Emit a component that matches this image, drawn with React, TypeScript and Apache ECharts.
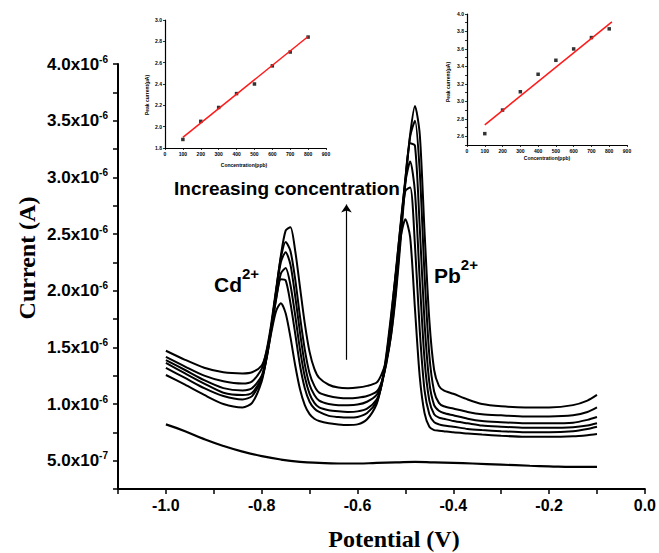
import React, { useEffect, useRef } from "react";
import * as echarts from "echarts";

// ---- main voltammograms (current in units of 1e-6 A) ----
const potential = [-1.0, -0.96, -0.92, -0.88, -0.84, -0.82, -0.8, -0.79, -0.78, -0.77, -0.76, -0.75, -0.74, -0.73, -0.72, -0.71, -0.7, -0.69, -0.68, -0.66, -0.64, -0.62, -0.6, -0.58, -0.56, -0.55, -0.54, -0.53, -0.52, -0.51, -0.5, -0.49, -0.48, -0.47, -0.46, -0.45, -0.44, -0.43, -0.42, -0.4, -0.37, -0.34, -0.3, -0.25, -0.2, -0.15, -0.12, -0.1];

const curve1 = [1.47, 1.39, 1.32, 1.28, 1.27, 1.28, 1.34, 1.46, 1.68, 1.99, 2.31, 2.53, 2.56, 2.35, 2.03, 1.71, 1.46, 1.31, 1.23, 1.17, 1.145, 1.14, 1.145, 1.16, 1.19, 1.26, 1.38, 1.6, 1.96, 2.44, 2.95, 3.38, 3.63, 3.38, 2.52, 1.74, 1.3, 1.16, 1.12, 1.09, 1.04, 1.0, 0.98, 0.97, 0.97, 0.99, 1.03, 1.08];
const curve2 = [1.415, 1.33, 1.25, 1.2, 1.18, 1.2, 1.31, 1.47, 1.71, 2.01, 2.29, 2.43, 2.35, 2.1, 1.77, 1.48, 1.27, 1.16, 1.1, 1.07, 1.055, 1.05, 1.055, 1.07, 1.11, 1.19, 1.35, 1.61, 2.0, 2.49, 2.98, 3.36, 3.5, 3.05, 2.14, 1.43, 1.11, 1.01, 0.98, 0.96, 0.93, 0.91, 0.9, 0.89, 0.89, 0.9, 0.93, 0.97];
const curve3 = [1.388, 1.3, 1.21, 1.14, 1.12, 1.14, 1.25, 1.42, 1.68, 1.99, 2.25, 2.34, 2.23, 1.95, 1.63, 1.35, 1.17, 1.08, 1.03, 1.0, 0.99, 0.99, 0.995, 1.02, 1.08, 1.18, 1.36, 1.66, 2.07, 2.55, 2.99, 3.3, 3.28, 2.56, 1.72, 1.19, 0.99, 0.94, 0.92, 0.9, 0.87, 0.85, 0.84, 0.83, 0.83, 0.835, 0.86, 0.885];
const curve4 = [1.362, 1.27, 1.18, 1.1, 1.08, 1.1, 1.23, 1.4, 1.65, 1.93, 2.15, 2.2, 2.05, 1.78, 1.48, 1.24, 1.09, 1.01, 0.97, 0.945, 0.935, 0.93, 0.935, 0.96, 1.04, 1.16, 1.38, 1.71, 2.14, 2.59, 2.96, 3.14, 2.87, 2.09, 1.39, 1.03, 0.91, 0.88, 0.87, 0.85, 0.83, 0.81, 0.8, 0.79, 0.79, 0.795, 0.81, 0.83];
const curve5 = [1.318, 1.23, 1.14, 1.07, 1.04, 1.07, 1.22, 1.41, 1.67, 1.92, 2.1, 2.09, 1.89, 1.62, 1.34, 1.14, 1.02, 0.96, 0.93, 0.895, 0.885, 0.88, 0.885, 0.92, 1.02, 1.16, 1.41, 1.75, 2.17, 2.57, 2.88, 2.91, 2.4, 1.65, 1.12, 0.91, 0.84, 0.82, 0.81, 0.8, 0.78, 0.77, 0.76, 0.75, 0.75, 0.76, 0.78, 0.8];
const curve6 = [1.256, 1.17, 1.08, 1.0, 0.97, 1.01, 1.2, 1.4, 1.63, 1.82, 1.89, 1.8, 1.59, 1.34, 1.13, 0.99, 0.91, 0.87, 0.85, 0.83, 0.82, 0.815, 0.82, 0.865, 1.0, 1.17, 1.43, 1.78, 2.15, 2.47, 2.63, 2.47, 1.84, 1.24, 0.92, 0.8, 0.77, 0.765, 0.76, 0.75, 0.74, 0.73, 0.72, 0.71, 0.71, 0.715, 0.725, 0.735];

const blankPotential = [-1.0, -0.96, -0.92, -0.88, -0.84, -0.8, -0.76, -0.72, -0.68, -0.64, -0.6, -0.56, -0.52, -0.48, -0.44, -0.4, -0.36, -0.3, -0.24, -0.2, -0.15, -0.1];
const blankCurrent = [0.82, 0.76, 0.69, 0.63, 0.58, 0.54, 0.51, 0.49, 0.48, 0.475, 0.475, 0.48, 0.485, 0.49, 0.485, 0.48, 0.475, 0.465, 0.455, 0.45, 0.445, 0.445];

// ---- tick labels ----
const yTickValues = [0.5, 1.0, 1.5, 2.0, 2.5, 3.0, 3.5, 4.0];
const yTickMantissa = ["5.0", "1.0", "1.5", "2.0", "2.5", "3.0", "3.5", "4.0"];
const yTickExponent = ["-7", "-6", "-6", "-6", "-6", "-6", "-6", "-6"];
const xTickValues = [-1.0, -0.8, -0.6, -0.4, -0.2, 0.0];
const xTickLabels = ["-1.0", "-0.8", "-0.6", "-0.4", "-0.2", "0.0"];

// ---- insets (calibration plots) ----
const insetConc = [100, 200, 300, 400, 500, 600, 700, 800];
const cdPeakCurrent = [1.88, 2.05, 2.18, 2.31, 2.4, 2.57, 2.7, 2.84];
const pbPeakCurrent = [2.63, 2.9, 3.11, 3.31, 3.47, 3.6, 3.73, 3.83];
const cdFitConc = [100, 800];
const cdFitCurrent = [1.9, 2.845];
const pbFitConc = [100, 815];
const pbFitCurrent = [2.73, 3.91];
const insetXTickValues = [0, 100, 200, 300, 400, 500, 600, 700, 800, 900];
const insetXTickLabels = ["0", "100", "200", "300", "400", "500", "600", "700", "800", "900"];
const cdInsetYValues = [1.8, 2.0, 2.2, 2.4, 2.6, 2.8, 3.0];
const cdInsetYLabels = ["1.8", "2.0", "2.2", "2.4", "2.6", "2.8", "3.0"];
const pbInsetYValues = [2.6, 2.8, 3.0, 3.2, 3.4, 3.6, 3.8, 4.0];
const pbInsetYLabels = ["2.6", "2.8", "3.0", "3.2", "3.4", "3.6", "3.8", "4.0"];

const pick = (vals: number[], labels: string[], v: number) => {
  const i = vals.findIndex((t) => Math.abs(t - v) < 1e-6);
  return i >= 0 ? labels[i] : "";
};
const zip = (xs: number[], ys: number[]) => xs.map((x, i) => [x, ys[i]]);

const SANS = '"Liberation Sans", Arial, sans-serif';
const SERIF = '"Liberation Serif", "Times New Roman", serif';

function buildOption() {
  const curves = [curve1, curve2, curve3, curve4, curve5, curve6];
  const lineSeries: any[] = curves.map((c, i) => ({
    type: "line",
    name: "c" + i,
    xAxisIndex: 0,
    yAxisIndex: 0,
    data: zip(potential, c),
    showSymbol: false,
    smooth: 0.25,
    lineStyle: { color: "#000", width: 2 },
    silent: true,
  }));
  lineSeries.push({
    type: "line",
    name: "blank",
    xAxisIndex: 0,
    yAxisIndex: 0,
    data: zip(blankPotential, blankCurrent),
    showSymbol: false,
    smooth: true,
    lineStyle: { color: "#000", width: 2.2 },
    silent: true,
    markLine: {
      silent: true,
      symbol: ["none", "arrow"],
      symbolSize: 8,
      label: { show: false },
      lineStyle: { color: "#000", width: 1.2, type: "solid" },
      data: [[{ coord: [-0.623, 1.39] }, { coord: [-0.623, 2.76] }]],
    },
  });

  const insetAxisCommon = {
    axisLine: { onZero: false, lineStyle: { color: "#000", width: 1.2 } },
    axisTick: { length: 2, lineStyle: { color: "#000", width: 0.8 } },
    splitLine: { show: false },
  };
  const tinyLabel = { fontSize: 5, fontWeight: "bold", color: "#000", fontFamily: SANS, margin: 3 };

  return {
    animation: false,
    backgroundColor: "#fff",
    grid: [
      { left: 118, right: 13, top: 64, bottom: 64 },
      { left: 165, top: 20, width: 161, height: 128 },
      { left: 467, top: 14, width: 160, height: 131 },
    ],
    xAxis: [
      {
        type: "value",
        gridIndex: 0,
        min: -1.1,
        max: 0,
        interval: 0.1,
        axisLine: { onZero: false, lineStyle: { color: "#000", width: 2 } },
        axisTick: { length: 5, lineStyle: { color: "#000", width: 1.5 } },
        splitLine: { show: false },
        axisLabel: {
          formatter: (v: number) => pick(xTickValues, xTickLabels, v),
          fontSize: 16,
          fontWeight: "bold",
          color: "#000",
          fontFamily: SANS,
          margin: 8,
        },
      },
      {
        type: "value",
        gridIndex: 1,
        min: 0,
        max: 900,
        interval: 100,
        ...insetAxisCommon,
        axisLabel: { ...tinyLabel, formatter: (v: number) => pick(insetXTickValues, insetXTickLabels, v) },
      },
      {
        type: "value",
        gridIndex: 2,
        min: 0,
        max: 900,
        interval: 100,
        ...insetAxisCommon,
        axisLabel: { ...tinyLabel, formatter: (v: number) => pick(insetXTickValues, insetXTickLabels, v) },
      },
    ],
    yAxis: [
      {
        type: "value",
        gridIndex: 0,
        min: 0.25,
        max: 4.0,
        interval: 0.25,
        axisLine: { onZero: false, lineStyle: { color: "#000", width: 2 } },
        axisTick: { length: 5, lineStyle: { color: "#000", width: 1.5 } },
        splitLine: { show: false },
        axisLabel: {
          margin: 10,
          formatter: (v: number) => {
            const m = pick(yTickValues, yTickMantissa, v);
            if (!m) return "";
            const e = pick(yTickValues, yTickExponent, v);
            return "{m|" + m + "x10}{e|" + e + "}";
          },
          rich: {
            m: { fontSize: 17, fontWeight: "bold", color: "#000", fontFamily: SANS, lineHeight: 20 },
            e: { fontSize: 10, fontWeight: "bold", color: "#000", fontFamily: SANS, lineHeight: 7, verticalAlign: "top" },
          },
        },
      },
      {
        type: "value",
        gridIndex: 1,
        min: 1.8,
        max: 3.0,
        interval: 0.2,
        ...insetAxisCommon,
        axisLabel: { ...tinyLabel, formatter: (v: number) => pick(cdInsetYValues, cdInsetYLabels, v) },
      },
      {
        type: "value",
        gridIndex: 2,
        min: 2.5,
        max: 4.0,
        interval: 0.1,
        ...insetAxisCommon,
        axisLabel: { ...tinyLabel, formatter: (v: number) => pick(pbInsetYValues, pbInsetYLabels, v) },
      },
    ],
    series: [
      ...lineSeries,
      {
        type: "line",
        xAxisIndex: 1,
        yAxisIndex: 1,
        data: zip(cdFitConc, cdFitCurrent),
        showSymbol: false,
        lineStyle: { color: "#ff1a1a", width: 1.5 },
        silent: true,
      },
      {
        type: "scatter",
        xAxisIndex: 1,
        yAxisIndex: 1,
        data: zip(insetConc, cdPeakCurrent),
        symbol: "rect",
        symbolSize: 3.5,
        itemStyle: { color: "#000" },
        silent: true,
      },
      {
        type: "line",
        xAxisIndex: 2,
        yAxisIndex: 2,
        data: zip(pbFitConc, pbFitCurrent),
        showSymbol: false,
        lineStyle: { color: "#ff1a1a", width: 1.5 },
        silent: true,
      },
      {
        type: "scatter",
        xAxisIndex: 2,
        yAxisIndex: 2,
        data: zip(insetConc, pbPeakCurrent),
        symbol: "rect",
        symbolSize: 3.5,
        itemStyle: { color: "#000" },
        silent: true,
      },
    ],
    graphic: [
      {
        type: "text",
        x: 27,
        y: 258,
        rotation: Math.PI / 2,
        style: { text: "Current (A)", font: "bold 24px " + SERIF, fill: "#000", align: "center", verticalAlign: "middle" },
      },
      {
        type: "text",
        x: 394,
        y: 539,
        style: { text: "Potential (V)", font: "bold 24px " + SERIF, fill: "#000", align: "center", verticalAlign: "middle" },
      },
      {
        type: "text",
        x: 287,
        y: 188,
        style: { text: "Increasing concentration", font: "bold 19px " + SANS, fill: "#000", align: "center", verticalAlign: "middle" },
      },
      {
        type: "text",
        x: 214,
        y: 284,
        style: {
          text: "{a|Cd}{b|2+}",
          align: "left",
          verticalAlign: "middle",
          rich: {
            a: { fontSize: 21, fontWeight: "bold", fontFamily: SANS, fill: "#000", lineHeight: 36 },
            b: { fontSize: 15, fontWeight: "bold", fontFamily: SANS, fill: "#000", lineHeight: 12, verticalAlign: "top" },
          },
        },
      },
      {
        type: "text",
        x: 434,
        y: 275,
        style: {
          text: "{a|Pb}{b|2+}",
          align: "left",
          verticalAlign: "middle",
          rich: {
            a: { fontSize: 21, fontWeight: "bold", fontFamily: SANS, fill: "#000", lineHeight: 36 },
            b: { fontSize: 15, fontWeight: "bold", fontFamily: SANS, fill: "#000", lineHeight: 12, verticalAlign: "top" },
          },
        },
      },
      {
        type: "text",
        x: 147,
        y: 95,
        rotation: Math.PI / 2,
        style: { text: "Peak current(µA)", font: "bold 5px " + SANS, fill: "#000", align: "center", verticalAlign: "middle" },
      },
      {
        type: "text",
        x: 244,
        y: 165,
        style: { text: "Concentration(ppb)", font: "bold 5px " + SANS, fill: "#000", align: "center", verticalAlign: "middle" },
      },
      {
        type: "text",
        x: 448,
        y: 82,
        rotation: Math.PI / 2,
        style: { text: "Peak current(µA)", font: "bold 5px " + SANS, fill: "#000", align: "center", verticalAlign: "middle" },
      },
      {
        type: "text",
        x: 547,
        y: 158,
        style: { text: "Concentration(ppb)", font: "bold 5px " + SANS, fill: "#000", align: "center", verticalAlign: "middle" },
      },
    ],
  };
}

export default function App() {
  const ref = useRef<HTMLDivElement>(null);
  useEffect(() => {
    if (!ref.current) return;
    const chart = echarts.init(ref.current, null, { renderer: "svg" });
    chart.setOption(buildOption() as any);
    return () => chart.dispose();
  }, []);
  return <div ref={ref} style={{ position: "absolute", left: 0, top: 0, width: 659, height: 553 }} />;
}
